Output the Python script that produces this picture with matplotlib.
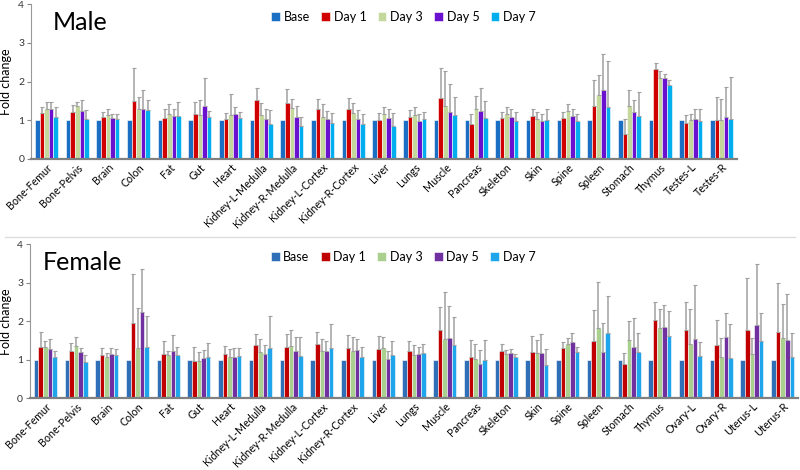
import numpy as np
import matplotlib
matplotlib.use("Agg")
import matplotlib.pyplot as plt
from matplotlib.lines import Line2D

plt.rcParams['font.family'] = ['Lato', 'DejaVu Sans']

SERIES = ["Base", "Day 1", "Day 3", "Day 5", "Day 7"]

# ── Male ──────────────────────────────────────────────
male_organs = ["Bone-Femur", "Bone-Pelvis", "Brain", "Colon", "Fat", "Gut", "Heart",
               "Kidney-L-Medulla", "Kidney-R-Medulla", "Kidney-L-Cortex", "Kidney-R-Cortex",
               "Liver", "Lungs", "Muscle", "Pancreas", "Skeleton", "Skin", "Spine",
               "Spleen", "Stomach", "Thymus", "Testes-L", "Testes-R"]
male_base = [1.0] * 23
male_d1 = [1.19, 1.20, 1.09, 1.49, 1.06, 1.15, 1.04, 1.51, 1.45, 1.29, 1.29, 1.01,
           1.07, 1.58, 0.89, 1.06, 1.12, 1.05, 1.36, 0.64, 2.32, 0.93, 1.00]
male_d3 = [1.29, 1.36, 1.13, 1.28, 1.17, 1.13, 1.13, 1.13, 1.32, 1.09, 1.19, 1.17,
           1.13, 1.37, 1.28, 1.16, 1.03, 1.23, 1.65, 1.36, 2.10, 1.01, 1.00]
male_d5 = [1.28, 1.24, 1.05, 1.29, 1.12, 1.36, 1.15, 1.04, 1.09, 1.04, 1.03, 1.06,
           0.99, 1.22, 1.23, 1.09, 0.98, 1.12, 1.78, 1.20, 2.09, 1.02, 1.07]
male_d7 = [1.07, 1.03, 1.03, 1.26, 1.12, 1.09, 1.05, 0.90, 0.84, 0.93, 0.90, 0.86,
           1.03, 1.13, 1.06, 0.98, 1.01, 0.97, 1.33, 1.11, 1.90, 0.97, 1.03]
# error bar tops
male_d1_top = [1.33, 1.39, 1.22, 2.34, 1.28, 1.47, 1.19, 1.84, 1.82, 1.55, 1.57, 1.18,
               1.26, 2.34, 1.16, 1.22, 1.28, 1.21, 2.03, 1.04, 2.47, 1.13, 1.59]
male_d3_top = [1.46, 1.47, 1.28, 1.60, 1.41, 1.53, 1.67, 1.45, 1.55, 1.41, 1.45, 1.33,
               1.34, 2.28, 1.62, 1.33, 1.20, 1.43, 2.16, 1.78, 2.28, 1.15, 1.56]
male_d5_top = [1.47, 1.53, 1.17, 1.77, 1.28, 2.09, 1.34, 1.28, 1.38, 1.25, 1.26, 1.30,
               1.17, 1.94, 1.84, 1.30, 1.17, 1.28, 2.72, 1.52, 2.19, 1.28, 1.86]
male_d7_top = [1.34, 1.26, 1.17, 1.52, 1.48, 1.24, 1.22, 1.26, 1.08, 1.19, 1.17, 1.19,
               1.22, 1.60, 1.49, 1.22, 1.30, 1.17, 2.52, 1.74, 2.03, 1.30, 2.12]

# ── Female ────────────────────────────────────────────
female_organs = ["Bone-Femur", "Bone-Pelvis", "Brain", "Colon", "Fat", "Gut", "Heart",
                 "Kidney-L-Medulla", "Kidney-R-Medulla", "Kidney-L-Cortex", "Kidney-R-Cortex",
                 "Liver", "Lungs", "Muscle", "Pancreas", "Skeleton", "Skin", "Spine",
                 "Spleen", "Stomach", "Thymus", "Ovary-L", "Ovary-R", "Uterus-L", "Uterus-R"]
female_base = [1.0] * 25
female_d1 = [1.32, 1.23, 1.11, 1.95, 1.16, 0.96, 1.15, 1.39, 1.34, 1.40, 1.30, 1.28, 1.23,
             1.77, 1.07, 1.23, 1.20, 1.30, 1.49, 0.88, 2.03, 1.77, 1.38, 1.76, 1.71]
female_d3 = [1.32, 1.35, 1.06, 1.30, 1.11, 0.97, 1.08, 1.21, 1.35, 1.23, 1.22, 1.30, 1.12,
             1.54, 1.03, 1.15, 1.18, 1.42, 1.82, 1.51, 1.83, 1.41, 1.06, 1.16, 1.57]
female_d5 = [1.28, 1.20, 1.15, 2.23, 1.23, 1.04, 1.08, 1.16, 1.22, 1.22, 1.24, 1.03, 1.14,
             1.56, 0.88, 1.17, 1.17, 1.45, 1.20, 1.33, 1.84, 1.54, 1.59, 1.90, 1.52]
female_d7 = [1.06, 0.95, 1.11, 1.33, 1.12, 1.08, 1.10, 1.30, 1.10, 1.30, 1.08, 1.13, 1.18,
             1.39, 0.99, 1.06, 0.87, 1.19, 1.70, 1.19, 1.61, 1.09, 1.05, 1.49, 1.06]
female_d1_top = [1.73, 1.43, 1.30, 3.22, 1.48, 1.33, 1.35, 1.68, 1.67, 1.71, 1.65, 1.61, 1.48,
                 2.38, 1.52, 1.41, 1.62, 1.47, 2.28, 1.17, 2.50, 2.50, 2.02, 3.13, 3.00]
female_d3_top = [1.49, 1.59, 1.17, 2.35, 1.23, 1.19, 1.28, 1.55, 1.77, 1.55, 1.59, 1.59, 1.38,
                 2.77, 1.41, 1.24, 1.50, 1.57, 3.03, 2.00, 2.32, 2.32, 1.56, 1.56, 2.44]
female_d5_top = [1.55, 1.30, 1.30, 3.36, 1.65, 1.25, 1.30, 1.39, 1.60, 1.49, 1.54, 1.22, 1.34,
                 2.40, 1.25, 1.29, 1.67, 1.70, 1.95, 2.09, 2.41, 2.95, 2.21, 3.48, 2.70]
female_d7_top = [1.23, 1.11, 1.27, 2.14, 1.32, 1.43, 1.30, 2.14, 1.58, 1.94, 1.34, 1.49, 1.41,
                 2.12, 1.51, 1.16, 1.28, 1.32, 2.65, 1.70, 2.26, 1.46, 1.92, 2.22, 1.69]

male_colors = ["#1a6fc4", "#d00000", "#c4d89c", "#6a10cf", "#00aef0"]
female_colors = ["#2e6fb7", "#c00000", "#a9d08e", "#7030a0", "#1fa5ec"]


def draw_panel(ax, organs, vals, tops, colors, title, title_x, legend_x, ylab_x):
    n = len(organs)
    x = np.arange(n)
    w = 0.15
    for i, (name, v, c) in enumerate(zip(SERIES, vals, colors)):
        pos = x + (i - 2) * w
        v = np.array(v, dtype=float)
        ax.bar(pos, v, width=w, color=c, edgecolor="white", linewidth=0.4, label=name, zorder=2)
        if tops[i] is not None:
            t = np.array(tops[i], dtype=float)
            ax.errorbar(pos, v, yerr=[np.zeros(n), t - v], fmt="none",
                        ecolor="#a0a0a0", elinewidth=1.1, capsize=1.5, capthick=0.8, zorder=3)
    ax.set_xlim(-0.5, n - 0.5)
    ax.set_ylim(0, 4)
    ax.set_yticks([0, 1, 2, 3, 4])
    ax.set_xticks(x)
    ax.set_xticklabels(organs, rotation=45, ha="right", rotation_mode="anchor", fontsize=7.7)
    ax.tick_params(axis="x", length=0, pad=2)
    ax.tick_params(axis="y", labelsize=7.5, length=3, color="#888888", labelcolor="#333333",
                   pad=2)
    for s in ["top", "right"]:
        ax.spines[s].set_visible(False)
    ax.spines["left"].set_color("#999999")
    ax.spines["left"].set_linewidth(0.8)
    ax.spines["bottom"].set_color("#808080")
    ax.spines["bottom"].set_linewidth(1.6)
    ax.set_ylabel("Fold change", fontsize=9)
    ax.yaxis.set_label_coords(ylab_x, 0.5)
    ax.text(title_x, 0.88, title, transform=ax.transAxes, fontsize=18, va="center", ha="left")
    ax.legend(loc="center left", bbox_to_anchor=(legend_x, 0.92), ncol=5, frameon=False,
              fontsize=9, handlelength=0.7, handleheight=0.7, handletextpad=0.3,
              columnspacing=0.9, borderaxespad=0)


fig = plt.figure(figsize=(8, 4.7), dpi=100)
ax1 = fig.add_axes([0.039, 0.662, 0.882, 0.329])
ax2 = fig.add_axes([0.0375, 0.153, 0.96, 0.327])

draw_panel(ax1, male_organs,
           [male_base, male_d1, male_d3, male_d5, male_d7],
           [None, male_d1_top, male_d3_top, male_d5_top, male_d7_top],
           male_colors, "Male", 0.03, 0.333, -0.027)
draw_panel(ax2, female_organs,
           [female_base, female_d1, female_d3, female_d5, female_d7],
           [None, female_d1_top, female_d3_top, female_d5_top, female_d7_top],
           female_colors, "Female", 0.016, 0.307, -0.024)

fig.add_artist(Line2D([0.006, 0.994], [1 - 237 / 470] * 2, color="#dddddd", lw=1))

fig.savefig("out.png", dpi=100)
